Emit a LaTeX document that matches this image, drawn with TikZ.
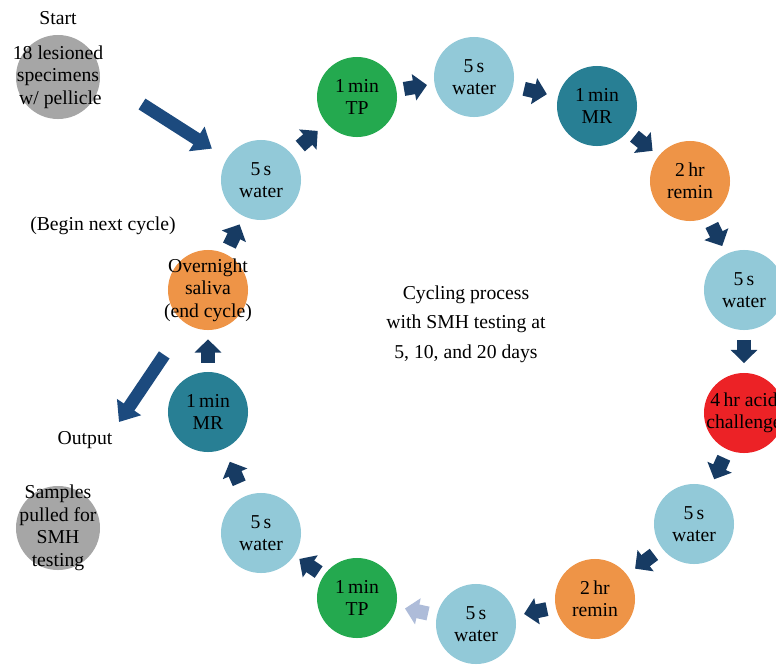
\documentclass[tikz,border=0pt]{standalone}
\usepackage{fontspec}
\setmainfont{Liberation Serif}
\usepackage{xcolor}
\usetikzlibrary{arrows.meta}

\definecolor{waterc}{HTML}{92C9D8}
\definecolor{tpc}{HTML}{24A94F}
\definecolor{mrc}{HTML}{287F94}
\definecolor{reminc}{HTML}{EE9447}
\definecolor{acidc}{HTML}{EC2226}
\definecolor{grayc}{HTML}{A6A6A6}
\definecolor{arrowc}{HTML}{173B63}
\definecolor{bigarrowc}{HTML}{1C4A7E}
\definecolor{lightarrowc}{HTML}{AEBCD9}

\tikzset{
  stepdot/.style={circle, minimum size=2cm, inner sep=0pt, draw=none},
  steptext/.style={align=center, font=\fontsize{14}{16}\selectfont},
  smallarrow/.style={draw=arrowc, line width=3.5mm,
    -{Triangle[length=3.3mm, width=6.5mm]}},
  bigarrow/.style={draw=bigarrowc, line width=3.2mm,
    -{Triangle[length=4.5mm, width=7mm]}}
}

\begin{document}
\begin{tikzpicture}[x=0.025cm, y=-0.025cm]
  % page frame
  \useasboundingbox (0,0) rectangle (776,665);
  \clip (0,0) rectangle (776,665);

  % start and end samples
  \node[steptext] (starttxt) at (58,18) {Start};
  \node[stepdot, minimum size=2.1cm, fill=grayc] (start) at (58,77) {};
  \node[steptext] at (start) {18 lesioned\\specimens\\\ w/ pellicle};
  \node[stepdot, minimum size=2.1cm, fill=grayc] (samples) at (58,528) {};
  \node[steptext] at (samples) {Samples\\pulled for\\SMH\\testing};

  % the cycle
  \node[stepdot, fill=waterc] (w1) at (261,180) {};
  \node[steptext] at (w1) {5\,s\\water};
  \node[stepdot, fill=tpc] (t1) at (357,97) {};
  \node[steptext] at (t1) {1\,min\\TP};
  \node[stepdot, fill=waterc] (w2) at (474,77) {};
  \node[steptext] at (w2) {5\,s\\water};
  \node[stepdot, fill=mrc] (m1) at (597,106) {};
  \node[steptext] at (m1) {1\,min\\MR};
  \node[stepdot, fill=reminc] (r1) at (690,181) {};
  \node[steptext] at (r1) {2\,hr\\remin};
  \node[stepdot, fill=waterc] (w3) at (744,290) {};
  \node[steptext] at (w3) {5\,s\\water};
  \node[stepdot, fill=acidc] (acid) at (744,413) {};
  \node[steptext] at (acid) {4\,hr acid\\challenge};
  \node[stepdot, fill=waterc] (w4) at (694,524) {};
  \node[steptext] at (w4) {5\,s\\water};
  \node[stepdot, fill=reminc] (r2) at (595,599) {};
  \node[steptext] at (r2) {2\,hr\\remin};
  \node[stepdot, fill=waterc] (w5) at (476,624) {};
  \node[steptext] at (w5) {5\,s\\water};
  \node[stepdot, fill=tpc] (t2) at (357,598) {};
  \node[steptext] at (t2) {1\,min\\TP};
  \node[stepdot, fill=waterc] (w6) at (261,533) {};
  \node[steptext] at (w6) {5\,s\\water};
  \node[stepdot, fill=mrc] (m2) at (208,412) {};
  \node[steptext] at (m2) {1\,min\\MR};
  \node[stepdot, fill=reminc] (sal) at (208,290) {};
  \node[steptext] at (sal) {Overnight\\saliva\\(end cycle)};

  % free labels
  \node[steptext] (nextcyc) at (103,226) {(Begin next cycle)};
  \node[steptext] (outtxt) at (85,440) {Output};
  \node[steptext, font=\fontsize{14}{21}\selectfont] (center) at (466,324)
    {Cycling process\\with SMH testing at\\5, 10, and 20 days};

  % small arrows between steps
  \foreach \a/\b/\s in {w1/t1/2.9mm, t1/w2/1.85mm, w2/m1/2.8mm, m1/r1/1.95mm,
      r1/w3/2.2mm, w3/acid/2.4mm, acid/w4/2.2mm, w4/r2/2.5mm, r2/w5/2.2mm,
      t2/w6/1.5mm, w6/m2/3.5mm, m2/sal/2.25mm, sal/w1/2.25mm}
    \draw[smallarrow, shorten <=\s, shorten >=\s] (\a) -- (\b);
  \draw[smallarrow, draw=lightarrowc, shorten <=2.2mm, shorten >=2.2mm] (w5) -- (t2);

  % in and out
  \coordinate (inTail) at (142,104);
  \coordinate (outTip) at (119,422);
  \draw[bigarrow, shorten >=4.5mm] (inTail) -- (w1);
  \draw[bigarrow, shorten <=9.5mm] (sal) -- (outTip);
\end{tikzpicture}
\end{document}
